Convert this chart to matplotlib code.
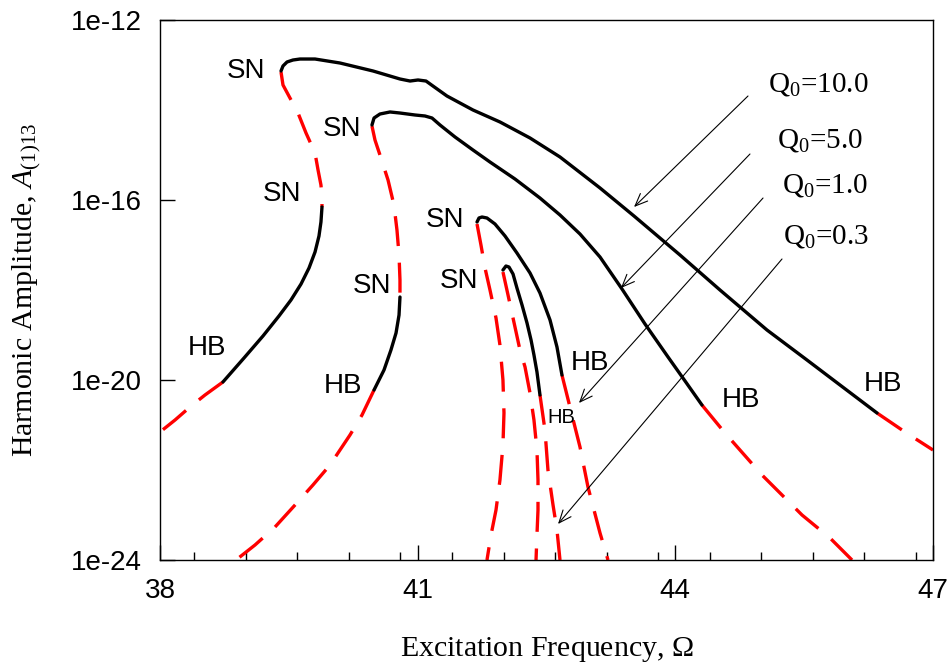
import numpy as np
import matplotlib
matplotlib.use("Agg")
import matplotlib.pyplot as plt
from matplotlib.ticker import FixedLocator, MultipleLocator, NullLocator

plt.rcParams['mathtext.fontset'] = 'custom'
plt.rcParams['mathtext.rm'] = 'Liberation Serif'
plt.rcParams['mathtext.it'] = 'Liberation Serif:italic'

SANS = ['Liberation Sans', 'DejaVu Sans']
SERIF = ['Liberation Serif', 'DejaVu Serif']

# frequency (Omega) and log10 of harmonic amplitude along each branch
# Q0 = 10.0
q10_up_w = [39.409, 39.432, 39.479, 39.548, 39.630, 39.805, 40.096, 40.480, 40.794, 40.911,
            41.004, 41.097, 41.178, 41.341, 41.644, 41.959, 42.308, 42.657, 43.123, 43.519,
            44.054, 44.520, 45.067, 45.533, 45.917, 46.348]
q10_up_a = [-13.133, -13.022, -12.933, -12.889, -12.867, -12.867, -12.956, -13.133, -13.311, -13.356,
            -13.333, -13.356, -13.467, -13.689, -14.0, -14.267, -14.622, -15.044, -15.733, -16.356,
            -17.222, -18.0, -18.889, -19.556, -20.111, -20.733]
q10_tail_w = [46.348, 46.674, 47.0]
q10_tail_a = [-20.733, -21.156, -21.556]
q10_mid_w = [39.409, 39.432, 39.607, 39.700, 39.805, 39.840, 39.874, 39.886, 39.886]
q10_mid_a = [-13.156, -13.444, -14.067, -14.511, -14.956, -15.333, -15.667, -15.933, -16.156]
q10_low_w = [39.886, 39.874, 39.851, 39.805, 39.735, 39.642, 39.525, 39.385, 39.199, 38.978, 38.733]
q10_low_a = [-16.156, -16.489, -16.8, -17.156, -17.511, -17.867, -18.222, -18.578, -19.022, -19.511, -20.044]
q10_lowtail_w = [38.733, 38.524, 38.349, 38.175, 38.0]
q10_lowtail_a = [-20.044, -20.333, -20.6, -20.889, -21.156]

# Q0 = 5.0
q5_up_w = [40.468, 40.492, 40.561, 40.678, 40.794, 40.969, 41.085, 41.167, 41.260, 41.435,
           41.644, 41.842, 42.133, 42.424, 42.657, 42.890, 43.123, 43.379, 43.647, 43.915,
           44.113, 44.310]
q5_up_a = [-14.333, -14.178, -14.089, -14.044, -14.067, -14.111, -14.133, -14.178, -14.333, -14.6,
           -14.889, -15.156, -15.533, -15.956, -16.333, -16.756, -17.267, -17.978, -18.756, -19.489,
           -20.022, -20.556]
q5_tail_w = [44.310, 44.578, 45.009, 45.475, 45.801, 46.057]
q5_tail_a = [-20.556, -21.178, -22.111, -23.0, -23.511, -24.0]
q5_mid_w = [40.468, 40.503, 40.561, 40.655, 40.724, 40.759, 40.783, 40.794, 40.794]
q5_mid_a = [-14.356, -14.667, -15.0, -15.556, -16.111, -16.667, -17.222, -17.778, -18.156]
q5_low_w = [40.794, 40.783, 40.748, 40.689, 40.608, 40.492]
q5_low_a = [-18.156, -18.556, -18.956, -19.333, -19.778, -20.222]
q5_lowtail_w = [40.492, 40.352, 40.212, 39.979, 39.781, 39.572, 39.339, 39.106, 38.885]
q5_lowtail_a = [-20.222, -20.778, -21.222, -21.889, -22.333, -22.778, -23.267, -23.667, -24.0]

# Q0 = 1.0
q1_up_w = [41.691, 41.714, 41.749, 41.807, 41.900, 42.017, 42.156, 42.308, 42.424, 42.541, 42.622, 42.680]
q1_up_a = [-16.489, -16.4, -16.378, -16.4, -16.533, -16.8, -17.178, -17.622, -18.067, -18.667, -19.267, -19.889]
q1_tail_w = [42.680, 42.773, 42.890, 42.983, 43.123, 43.216]
q1_tail_a = [-19.889, -20.6, -21.489, -22.378, -23.4, -24.0]
q1_mid_w = [41.691, 41.737, 41.784, 41.842, 41.912, 41.958, 41.993, 42.005, 41.993, 41.958,
            41.912, 41.854, 41.807]
q1_mid_a = [-16.533, -17.0, -17.511, -18.0, -18.622, -19.222, -20.0, -20.733, -21.444, -22.222,
            -22.889, -23.444, -24.0]

# Q0 = 0.3
q03_up_w = [41.993, 42.028, 42.063, 42.110, 42.156, 42.215, 42.273, 42.320, 42.354, 42.389, 42.424]
q03_up_a = [-17.556, -17.467, -17.489, -17.644, -17.956, -18.333, -18.733, -19.111, -19.444, -19.822, -20.333]
q03_tail_w = [42.424, 42.482, 42.517, 42.576, 42.622, 42.657]
q03_tail_a = [-20.333, -21.111, -22.0, -22.778, -23.333, -24.0]
q03_mid_w = [41.993, 42.052, 42.133, 42.191, 42.250, 42.308, 42.354, 42.389, 42.401, 42.401, 42.389, 42.378]
q03_mid_a = [-17.6, -18.111, -18.822, -19.333, -19.711, -20.289, -20.889, -21.556, -22.222, -22.889,
             -23.444, -24.0]

stable = [(q10_up_w, q10_up_a), (q10_low_w, q10_low_a), (q5_up_w, q5_up_a), (q5_low_w, q5_low_a),
          (q1_up_w, q1_up_a), (q03_up_w, q03_up_a)]
unstable = [(q10_tail_w, q10_tail_a), (q10_mid_w, q10_mid_a), (q10_lowtail_w, q10_lowtail_a),
            (q5_tail_w, q5_tail_a), (q5_mid_w, q5_mid_a), (q5_lowtail_w, q5_lowtail_a),
            (q1_tail_w, q1_tail_a), (q1_mid_w, q1_mid_a), (q03_tail_w, q03_tail_a),
            (q03_mid_w, q03_mid_a)]

fig = plt.figure(figsize=(9.53, 6.65), dpi=100)
ax = fig.add_axes([160 / 953, 105 / 665, 773 / 953, 540 / 665])

for w, a in unstable:
    ax.plot(w, 10.0 ** np.array(a), color='#ff0000', lw=2.4, linestyle=(0, (9, 5)))
for w, a in stable:
    ax.plot(w, 10.0 ** np.array(a), color='black', lw=2.4, solid_capstyle='round',
            solid_joinstyle='round')

ax.set_yscale('log')
ax.set_xlim(38, 47)
ax.set_ylim(1e-24, 1e-12)
ax.yaxis.set_major_locator(FixedLocator([1e-24, 1e-20, 1e-16, 1e-12]))
ax.yaxis.set_minor_locator(NullLocator())
ax.set_yticklabels(['1e-24', '1e-20', '1e-16', '1e-12'])
ax.xaxis.set_major_locator(FixedLocator([38, 41, 44, 47]))
ax.xaxis.set_minor_locator(MultipleLocator(0.6))
ax.tick_params(which='major', direction='in', length=11, width=1, labelsize=20, pad=13)
ax.tick_params(which='minor', direction='in', length=5.5, width=1)
ax.tick_params(axis='y', which='both', right=False)
ax.tick_params(axis='x', which='both', top=False)
for lab in ax.get_xticklabels() + ax.get_yticklabels():
    lab.set_family(SANS)
for sp in ax.spines.values():
    sp.set_linewidth(1.0)

ax.set_xlabel(r'Excitation Frequency, $\Omega$', family=SERIF, fontsize=21.5, labelpad=22)
ax.set_ylabel(r'Harmonic Amplitude, $\mathit{A}_{(1)13}$', family=SERIF, fontsize=21.5)
ax.yaxis.set_label_coords(-0.152, 0.5)

# bifurcation point labels
marks = [('SN', 39.001, -13.289, 20), ('SN', 40.119, -14.578, 20), ('SN', 39.420, -16.022, 20),
         ('SN', 40.468, -18.067, 20), ('SN', 41.318, -16.6, 20), ('SN', 41.481, -17.956, 20),
         ('HB', 38.547, -19.444, 20), ('HB', 40.131, -20.289, 20), ('HB', 43.006, -19.778, 20),
         ('HB', 42.669, -20.956, 14.5), ('HB', 44.764, -20.6, 20), ('HB', 46.418, -20.244, 20)]
for s, x, lg, fs in marks:
    ax.text(x, 10.0 ** lg, s, family=SANS, fontsize=fs, ha='center', va='baseline')

# curve labels with pointers
labels = [(r'Q$_0$=10.0', 45.079, -13.6, (44.846, -13.689), (43.519, -16.156)),
          (r'Q$_0$=5.0', 45.183, -14.844, (44.869, -14.978), (43.367, -17.956)),
          (r'Q$_0$=1.0', 45.242, -15.844, (45.021, -15.956), (42.878, -20.511)),
          (r'Q$_0$=0.3', 45.253, -16.956, (45.242, -17.311), (42.634, -23.2))]
for s, x, lg, tail, tip in labels:
    ax.text(x, 10.0 ** lg, s, family=SERIF, fontsize=21, ha='left', va='baseline')
    ax.annotate('', xy=(tip[0], 10.0 ** tip[1]), xytext=(tail[0], 10.0 ** tail[1]),
                arrowprops=dict(arrowstyle='->,head_length=0.6,head_width=0.25', lw=0.8,
                                color='black', shrinkA=0, shrinkB=0, mutation_scale=15))

fig.savefig('out.png', dpi=100)
